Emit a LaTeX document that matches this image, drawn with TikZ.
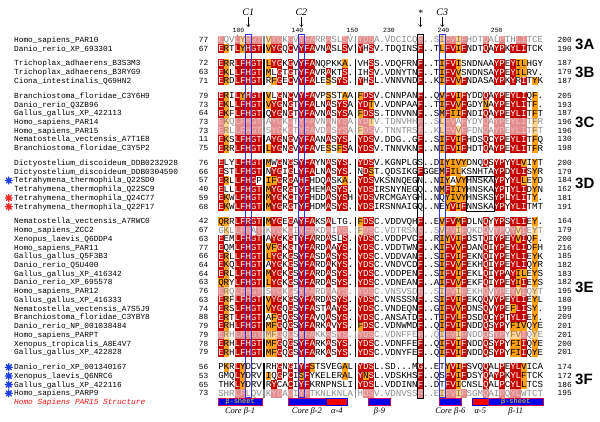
\documentclass[tikz,border=0pt]{standalone}
\usepackage{fontspec}
\setmainfont{Liberation Serif}
\setsansfont{Liberation Sans}
\setmonofont{Liberation Mono}
\usetikzlibrary{arrows.meta, positioning}
\definecolor{red1}{RGB}{196, 0, 0}
\definecolor{orange1}{RGB}{255, 160, 20}
\definecolor{blue1}{RGB}{50, 50, 240}
\definecolor{sheetblue}{RGB}{0, 0, 235}
\definecolor{helixred}{RGB}{245, 0, 0}
\definecolor{rim1}{RGB}{200, 0, 90}
\definecolor{yellow1}{RGB}{255, 225, 0}
\definecolor{starblue}{RGB}{30, 60, 230}
\definecolor{starred}{RGB}{240, 40, 40}
\definecolor{title1}{RGB}{240, 20, 20}

% one residue cell: letter, colour code (R red, O orange, W white)
\newcount\cellcol
\newcommand\seqcell[2]{%
  \ifnum\cellcol<8
    \pgfmathsetmacro\cellx{218.3+5.45*\the\cellcol}%
  \else\ifnum\cellcol<24
    \pgfmathsetmacro\cellx{266+5.45*(\the\cellcol-8)}%
  \else
    \pgfmathsetmacro\cellx{357.7+5.45*(\the\cellcol-24)}%
  \fi\fi
  \if#2R\fill[red1] (\cellx,\rowy-4.36) rectangle ++(5.45,8.72);\def\celltext{white}%
  \else\if#2O\fill[orange1] (\cellx,\rowy-4.36) rectangle ++(5.45,8.72);\def\celltext{black}%
  \else\def\celltext{black}\fi\fi
  \node[reslab, text=\celltext] (cell\rowid-\the\cellcol) at (\cellx+2.725,\rowy+2.8) {#1};}
\def\cellwalk#1#2;#3#4;{%
  \ifx#1!\let\cellnext\relax
  \else
    \seqcell{#1}{#3}%
    \advance\cellcol by 1
    \def\cellnext{\cellwalk#2;#4;}%
  \fi
  \cellnext}
% id, y, name, first, last, residues, colours, opacity
\newcommand\seqrow[8]{%
  \node[namelab] (name#1) at (14,#2+2.4) {\detokenize{#3}};
  \node[numlab, anchor=base east] (first#1) at (208.5,#2+2.4) {#4};
  \node[numlab, anchor=base west] (last#1) at (557.5,#2+2.4) {#5};
  \begin{scope}[opacity=#8]
    \def\rowid{#1}\def\rowy{#2}%
    \cellcol=0
    \cellwalk#6!;#7!;%
    \fill (263.2,#2-4.36) rectangle ++(1.6,8.72);
    \fill (354.7,#2-4.36) rectangle ++(1.6,8.72);
  \end{scope}}
\newcommand\starmark[2]{%
  \draw[#2, line width=1.3pt, line cap=round, shift={(8.8,#1)}]
    (-3.5,0) -- (3.5,0) (0,-3.5) -- (0,3.5)
    (-2.5,-2.5) -- (2.5,2.5) (-2.5,2.5) -- (2.5,-2.5);}

\begin{document}
\begin{tikzpicture}[x=1pt, y=-1pt,
    reslab/.style={font=\ttfamily\fontsize{9.2}{9.2}\selectfont, inner sep=0, anchor=base},
    namelab/.style={font=\ttfamily\fontsize{7.8}{8}\selectfont, inner sep=0, anchor=base west},
    numlab/.style={font=\ttfamily\fontsize{7.8}{8}\selectfont, inner sep=0},
    posnum/.style={font=\ttfamily\fontsize{6.4}{6.4}\selectfont, inner sep=0},
    toplab/.style={font=\itshape\fontsize{10}{10}\selectfont, inner sep=0.5pt},
    downarr/.style={-{Straight Barb[length=2.2pt, width=3.8pt]}, line width=0.45pt},
    grouplab/.style={font=\sffamily\bfseries\fontsize{15}{15}\selectfont, inner sep=0, anchor=west},
    colbox/.style={draw=blue1, line width=0.8pt},
    starbox/.style={draw=black, line width=1pt},
    motifbox/.style={draw=black, line width=0.6pt},
    sheetbar/.style={draw=rim1, fill=sheetblue, line width=0.6pt, minimum height=7.4pt,
      inner sep=0, font=\ttfamily\fontsize{7}{7}\selectfont, text=yellow1},
    helixbar/.style={draw=sheetblue, fill=helixred, line width=0.6pt, minimum height=7.4pt, inner sep=0},
    sslab/.style={font=\itshape\fontsize{8.5}{8.5}\selectfont, inner sep=0.5pt},
  ]
  \useasboundingbox (0,0) rectangle (600,421);

  % Group 3A
  \seqrow{1}{40.00}{Homo_sapiens_PAR10}{77}{200}
    {EQVLYHGT VYGKGVYFARRASLSV YDSA.VDCICQ F ..SIFVIFHDTQALPTHLITCE}
    {RWWRORRR ORRWRWRRRWWRWWRW RRRWWWWWWWW R WWWORRORWWWRWWRWWRRWWW}{0.45}
  \seqrow{2}{48.72}{Danio_rerio_XP_693301}{67}{190}
    {ERTLYHGT VYGQCVYFAVNASLSV YHSV.TDQINS F ..TLFVIFNDTQAYPKYLITCK}
    {ROWRORRR ORRWRWRRRWWRWWRW RWRWWWWWWWW R WWWORRORWWWRWRRWRRRWWW}{1}

  % Group 3B
  \seqrow{3}{63.58}{Trichoplax_adhaerens_B3S3M3}{72}{187}
    {ERRLFHGT LYGKGVYFANQPKKA. VHSS.VDQFRN F ..TIFVISNDNAAYPEYILHGY}
    {ROWRRRRR ORRWRWRRRWWWWWOW WWRWWWWWWWW R WWWORROWWWWWWRRWROOWWW}{1}
  \seqrow{4}{72.30}{Trichoplax_adhaerens_B3RYG9}{63}{179}
    {EKLLFHGT MLGTGTYFAVRAKTS. IHSV.VDNYTN F ..TIFVVSNDNSAYPEYILRV.}
    {ROWRRRRR OWRWRWRRRWWRWWRW WWRWWWWWWWW R WWWORROWWWWWWRRWROOWWW}{1}
  \seqrow{5}{81.02}{Ciona_intestinalis_Q69HN2}{71}{187}
    {ERDLFHGT RFGECVYFALESSYS. YHSL.VNNVND F ..KIFVVFNDASAYPKYRITYK}
    {ROWRRRRR WORWRWRRRWWOWRRW RWRWWWWWWWW R WWWORRORWWWWWRRWRWRWOW}{1}

  % Group 3C
  \seqrow{6}{95.88}{Branchiostoma_floridae_C3Y6H9}{79}{205}
    {ERILYHGT VLGNCVYFAVPSSTAA FDSV.CNNPAN F ..QVFVIFYDDQAYPEYLIQF.}
    {ROWRORRR OWRWRWRRRWWOWWOW ORRWWWWWWWW R WWWORRORWWWRWRRWRRRWOW}{1}
  \seqrow{7}{104.60}{Danio_rerio_Q3ZB96}{73}{193}
    {EKLLFHGT VYGNGTYFALNASYSA YDTV.VDNPAA F ..TIFVVFGDYNAYPEYLITF.}
    {ROWRRRRR ORRWRWRRRWWRWRRW RROWWWWWWWW R WWWORRORWWWOWRRWRRRWOW}{1}
  \seqrow{8}{113.32}{Gallus_gallus_XP_422113}{64}{187}
    {EKFLFHGT QYGNGTYFAVNASYSA FDSS.TDNVNN F ..SMFIIFNDIQAYPEYLITFT}
    {ROWRRRRR WRRWRWRRRWWRWRRW ORRWWWWWWWW R WWWOROORWWWRWRRWRRRWOW}{1}
  \seqrow{9}{122.04}{Homo_sapiens_PAR14}{73}{196}
    {EKQLFHGT AYGKGTYFAVNANYSA YDTV.TDNVHH F ..SLFVAFYDYQAYPEYLITFR}
    {ROWRRRRR WRRWRWRRRWWRWRRW RROWWWWWWWW R WWWORRWRWWWRWRRWRRRWOW}{0.45}
  \seqrow{10}{130.76}{Homo_sapiens_PAR15}{73}{196}
    {ERLLFHGT SYGKGTYFAVDASYSA FDSV.TNNTRS F ..KLFVVFFDNQAYPEYLITFT}
    {ROWRRRRR WRRWRWRRRWWRWRRW ORRWWWWWWWW R WWWORRORWWWRWRRWRRRWOW}{0.45}
  \seqrow{11}{139.48}{Nematostella_vectensis_A7T1E8}{11}{130}
    {EKSLFHGT AYGNGVYFAANASYS. YDSV.DDG..G F ..SIFVIFHDSQCYPEYLITFQ}
    {ROWRRRRR WRRWRWRRRWWRWRRW RRRWWWWWWWW R WWWORRORWWWRWRRWRRRWOW}{1}
  \seqrow{12}{148.20}{Branchiostoma_floridae_C3Y5P2}{75}{198}
    {ERRLFHGT LYGNGVYFAVESSFSA YDSV.TNNVKN F ..NIFVIFHDTQAYPEYLITFR}
    {ROWRRRRR ORRWRWRRRWWOWORW RRRWWWWWWWW R WWWORRORWWWRWRRWRRRWOW}{1}

  % Group 3D
  \seqrow{13}{163.06}{Dictyostelium_discoideum_DDB0232928}{76}{200}
    {ELYLFHGT MWGNGSYFAYNASYS. YDSV.KGNPLG S ..DIYIVYDNQQSYPYYLVIYT}
    {RWWRRRRR OWRWRWRRRWWRWRRW RRRWWWWWWWW W WWWOOOOOWWWRWRRWRROWOW}{1}
  \seqrow{14}{171.78}{Dictyostelium_discoideum_DDB0304590}{66}{179}
    {ESTLFHGT NYGIGLYFALNASYS. NDST.QDSIKG F GGEMFILKSNHTAYPDYLISYR}
    {RWWRRRRR WRRWRWRRRWWRWRRW WROWWWWWWWW R WWWOROOWWWWWWRRWRRRWOW}{1}
  \seqrow{15}{180.50}{Tetrahymena_thermophila_Q22SD0}{57}{184}
    {ERLLFHGP IFGRGAHFHDQASKA. YDSVKSNNQEG N ..NIYAVYHNSKAYPYYLLEYD}
    {ROWRRRRW OORWRWRRWWWRWWOW RRRWWWWWWWW W WWWOOWOOWWWWWRRWRROWOW}{1}
  \seqrow{16}{189.22}{Tetrahymena_thermophila_Q22SC9}{40}{162}
    {ELLLFHGT MYGRGTYFHEMASYS. YDSIRSNYNEG Q ..NMFIIYHNSKAYPTYLIDYN}
    {RWWRRRRR ORRWRWRRWWWRWRRW RRRWWWWWWWW W WWWOROOOWWWWWRRWRRRWOW}{1}
  \seqrow{17}{197.94}{Tetrahymena_thermophila_Q24C77}{59}{181}
    {EKWLFHGT MYGKCTYFHDDASYSH YDSVRCMGAYG H ..NQYIVYHNSKSYPLYLITY.}
    {ROWRRRRR ORRWRWRRWWWRWRRW RRRWWWWWWWW W WWWWOOOOWWWWWRRWRRRWOW}{1}
  \seqrow{18}{206.66}{Tetrahymena_thermophila_Q22F17}{68}{191}
    {EKWLFHGT MYGRGTYFHDMASYS. YDSIRSNNAIG Q ..NEYVIFNNSKAYPYYLITMT}
    {ROWRRRRR ORRWRWRRWWWRWRRW RRRWWWWWWWW W WWWWORORWWWWWRRWRRRWWW}{1}

  % Group 3E
  \seqrow{19}{221.52}{Nematostella_vectensis_A7RWC0}{42}{164}
    {QRRLFRGT MYGEGAYFAKSALTG. FDSC.VDDVQH F ..EVFVMFDLNQYYPSYLIEY.}
    {OOWRRRRR ORRWRWRRRWWRWWWW ORRWWWWWWWW R WWWORRORWWWRWRRWRRRWOW}{1}
  \seqrow{20}{230.24}{Homo_sapiens_ZCC2}{67}{179}
    {GKLLFHAT KYGKGIYFAKDAIYS. FDSC.VDTRSN F ..SVFVIFQKDQVYPQYVIEYT}
    {WOWRRRWR WRRWRWRRRWWRWRRW ORRWWWWWWWW R WWWORRORWWWRWRRWRORWOW}{0.45}
  \seqrow{21}{238.96}{Xenopus_laevis_Q6DDP4}{63}{200}
    {EEMLFHGT AYGKGTYFARDASLS. YDSC.VDDPVC F ..RIYVIFDSTQIYPEYVIQF.}
    {RWWRRRRR WRRWRWRRRWWRWWRW RRRWWWWWWWW R WWWOORORWWWRWRRWRORWOW}{1}
  \seqrow{22}{247.68}{Homo_sapiens_PAR11}{77}{216}
    {EQMLFHGT VFGKGTYFARDAAYS. YDSC.VDDTWN F ..KIFVVFDANQIYPEYLIDFH}
    {RWWRRRRR OORWRWRRRWWRWRRW RRRWWWWWWWW R WWWORRORWWWRWRRWRRRWOW}{1}
  \seqrow{23}{256.40}{Gallus_gallus_Q5F3B3}{66}{185}
    {ERLLFHGT LYGKGSYFASDASYS. YDSC.VDDVAN F ..SIFVIFEKNQIYPEYLIEYK}
    {ROWRRRRR ORRWRWRRRWWRWRRW RRRWWWWWWWW R WWWORRORWWWRWRRWRRRWOW}{1}
  \seqrow{24}{265.12}{Danio_rerio_Q5U400}{64}{182}
    {EKQLFHGT AYGKGSYFARDAKYS. YDSC.VNDVCD F ..SIFVVFEKHQIYPEYLIQYR}
    {ROWRRRRR WRRWRWRRRWWRWRRW RRRWWWWWWWW R WWWORRORWWWRWRRWRRRWOW}{1}
  \seqrow{25}{273.84}{Gallus_gallus_XP_416342}{64}{183}
    {ERLLFHGT MYGKGSYFARDASYS. YDSC.VDDPEN F ..SIFVIFEKLQIYPAYILEYS}
    {ROWRRRRR ORRWRWRRRWWRWRRW RRRWWWWWWWW R WWWORRORWWWRWRRWROOWOW}{1}
  \seqrow{26}{282.56}{Danio_rerio_XP_695578}{63}{182}
    {QRYLFHGT LYGKGSYFARDASYS. YDSC.VDNEAN F ..AIFVVFEKFQIYPEYIIEYS}
    {OOWRRRRR ORRWRWRRRWWRWRRW RRRWWWWWWWW R WWWORRORWWWRWRRWRORWOW}{1}
  \seqrow{27}{291.28}{Homo_sapiens_PAR12}{76}{195}
    {ERQLFHGT SYGKGSYFARDAAYS. YDSC.VNSVSD F ..SIFVIFEKHQVYPEYVIQYT}
    {ROWRRRRR WRRWRWRRRWWRWRRW RRRWWWWWWWW R WWWORRORWWWRWRRWRORWOW}{0.45}
  \seqrow{28}{300.00}{Gallus_gallus_XP_416333}{63}{180}
    {ERFLFHGT VYGKGSYFARDASYS. YDSC.VNSSSN F ..SIFVIFEKQQVYPEYLIEYL}
    {ROWRRRRR ORRWRWRRRWWRWRRW RRRWWWWWWWW R WWWORRORWWWRWRRWRRRWOW}{1}
  \seqrow{29}{308.72}{Nematostella_vectensis_A7S5J9}{74}{199}
    {ERSLFHGT VYGQGSYFASTAAYS. YDSC.VNDEQN F ..GIFVVFDNSQVYPEFLISY.}
    {ROWRRRRR ORRWRWRRRWWRWRRW RRRWWWWWWWW R WWWORRORWWWRWRRWORRWOW}{1}
  \seqrow{30}{317.44}{Branchiostoma_floridae_C3YBY8}{88}{209}
    {ERTLFHGT AFGQGSYFAVQASYS. YDSC.ANSATD F ..TIFVLFDSDQCYPTYLIEY.}
    {ROWRRRRR WORWRWRRRWWRWRRW RRRWWWWWWWW R WWWORRORWWWRWRRWRRRWOW}{1}
  \seqrow{31}{326.16}{Danio_rerio_NP_001038484}{79}{201}
    {ERHLFHGT MFGQGSYFARKAVYS. FDSC.VDNWMD F ..QIFVIFNDDQSYPYFIVQYE}
    {ROWRRRRR OORWRWRRRWWRWRRW ORRWWWWWWWW R WWWORRORWWWRWRRWOOOWOW}{1}
  \seqrow{32}{334.88}{Homo_sapiens_PARPT}{79}{201}
    {ERHLFHGT MFGQGSYFAKKASYS. YDSC.VDNFFE F ..QIFVIFNDDQSYPYFVIQYE}
    {ROWRRRRR OORWRWRRRWWRWRRW RRRWWWWWWWW R WWWORRORWWWRWRRWOORWOW}{0.45}
  \seqrow{33}{343.60}{Xenopus_tropicalis_A8E4V7}{78}{200}
    {ERHLFHGT MFGQGSYFARKASYS. YDSC.VDNFFE F ..QIFVIFNDDQSYPYFIIQYE}
    {ROWRRRRR OORWRWRRRWWRWRRW RRRWWWWWWWW R WWWORRORWWWRWRRWOORWOW}{1}
  \seqrow{34}{352.32}{Gallus_gallus_XP_422828}{79}{201}
    {ERHLFHGT MFGQGSYFARKASYS. YDSC.VDNYFE F ..QIFVIFNDDQSYPYFIIQYE}
    {ROWRRRRR OORWRWRRRWWRWRRW RRRWWWWWWWW R WWWORRORWWWRWRRWOORWOW}{1}

  % Group 3F
  \seqrow{35}{367.18}{Danio_rerio_XP_001340167}{56}{174}
    {PKRLYDCV RHGNGIYFSTSVEGAL YDSL.SD...M G ..ETYVIFSVQQALPEYLVICA}
    {WOWROWWW WWRWRWRROWWWWWOW RRRWWWWWWWW R WWWWORORWWWRWWRWRROWWW}{1}
  \seqrow{36}{375.90}{Xenopus_laevis_Q6NRC6}{53}{172}
    {GMQLYDRV IQGPCISFYKELERAL YNSL.VDSKHS F ..QSFVIFDSYQAYPKYLFTCK}
    {WWWROWWW OWRWRWORWWWWWWOW RORWWWWWWWW R WWWWRRORWWWRWRRWRROWWW}{1}
  \seqrow{37}{384.62}{Gallus_gallus_XP_422116}{65}{186}
    {THKLYDRV RYCACIYFKRNPNSLI YDSL.VDDINN F ..DTFVICNSLQALPCYLLTCS}
    {WWWROWWW WRWWRWRRWWWWWWWW RRRWWWWWWWW R WWWWRROWWWWRWWRWRROWWW}{1}
  \seqrow{38}{393.34}{Homo_sapiens_PARP9}{73}{195}
    {SHRLFLQV KYGAGIYFTKNLKNLA HDSV.VDNVSS F ..EIFVIFSGMQAIPQYLWTCT}
    {WWWRRWWW WRRWRWRRWWWWWWWW WRRWWWWWWWW R WWWORRORWWWRWWRWRRWWWW}{0.45}

  % Marked sequences
  \starmark{180.50}{starblue}
  \starmark{197.94}{starred}
  \starmark{206.66}{starred}
  \starmark{367.18}{starblue}
  \starmark{375.90}{starblue}
  \starmark{384.62}{starblue}
  \starmark{393.34}{starblue}

  % Group labels
  \node[grouplab] (g3A) at (575,44.36) {3A};
  \node[grouplab] (g3B) at (575,72.30) {3B};
  \node[grouplab] (g3C) at (575,122.04) {3C};
  \node[grouplab] (g3D) at (575,183.5) {3D};
  \node[grouplab] (g3E) at (575,286.92) {3E};
  \node[grouplab] (g3F) at (575,379.5) {3F};

  % Column boxes
  \draw[colbox] (245.55,34.5) rectangle (251.0,397.7);
  \draw[colbox] (298.7,34.5) rectangle (304.15,397.7);
  \draw[colbox] (439.45,34.5) rectangle (444.9,397.7);
  \draw[starbox] (417.65,34.5) rectangle (423.1,398.5);
  \draw[motifbox] (466.7,176.14) rectangle (493.95,211.02);

  % Residue numbering
  \node[posnum] (n100) at (238.5,30.5) {100};
  \node[posnum] (n140) at (297.5,30.5) {140};
  \node[posnum] (n150) at (352.5,30.5) {150};
  \node[posnum] (n230) at (389.0,30.5) {230};
  \node[posnum] (n240) at (443.5,30.5) {240};
  \node[posnum] (n250) at (496.7,30.5) {250};
  \foreach \px in {237.4, 296.0, 350.5, 389.0, 442.2, 496.7}
    \fill (\px,35.2) circle (0.45);

  % Catalytic positions
  \node[toplab] (c1lab) at (248.3,12.5) {C1};
  \node[toplab] (c2lab) at (301.4,12.5) {C2};
  \node[toplab] (astlab) at (420.4,13.5) {*};
  \node[toplab] (c3lab) at (442.2,12.5) {C3};
  \coordinate (c1tip) at (248.3,27);
  \coordinate (c2tip) at (301.4,27);
  \coordinate (asttip) at (420.4,27);
  \coordinate (c3tip) at (442.2,27);
  \draw[downarr] (c1lab) -- (c1tip);
  \draw[downarr] (c2lab) -- (c2tip);
  \draw[downarr] (astlab) -- (asttip);
  \draw[downarr] (c3lab) -- (c3tip);

  % Structure row
  \node[namelab, text=title1, font=\ttfamily\itshape\fontsize{7.8}{8}\selectfont] (structlab) at (14,404.4) {Homo Sapiens PAR15 Structure};
  \node[sheetbar, minimum width=43.6pt] (b1) at (240.1,402.06) {β-sheet};
  \node[sheetbar, minimum width=38.15pt] (b2) at (306.9,402.06) {};
  \node[helixbar, minimum width=21.8pt] (b3) at (336.85,402.06) {};
  \node[sheetbar, minimum width=21.8pt] (b4) at (379.5,402.06) {};
  \node[sheetbar, minimum width=21.8pt] (b5) at (450.35,402.06) {};
  \node[helixbar, minimum width=16.35pt] (b6) at (480.3,402.06) {};
  \node[sheetbar, minimum width=54.5pt] (b7) at (515.75,402.06) {β-sheet};
  \node[sslab, below=1.2pt of b1] (s1) {Core β-1};
  \node[sslab, below=1.2pt of b2] (s2) {Core β-2};
  \node[sslab, below=1.2pt of b3] (s3) {α-4};
  \node[sslab, below=1.2pt of b4] (s4) {β-9};
  \node[sslab, below=1.2pt of b5] (s5) {Core β-6};
  \node[sslab, below=1.2pt of b6] (s6) {α-5};
  \node[sslab, below=1.2pt of b7] (s7) {β-11};

\end{tikzpicture}
\end{document}
